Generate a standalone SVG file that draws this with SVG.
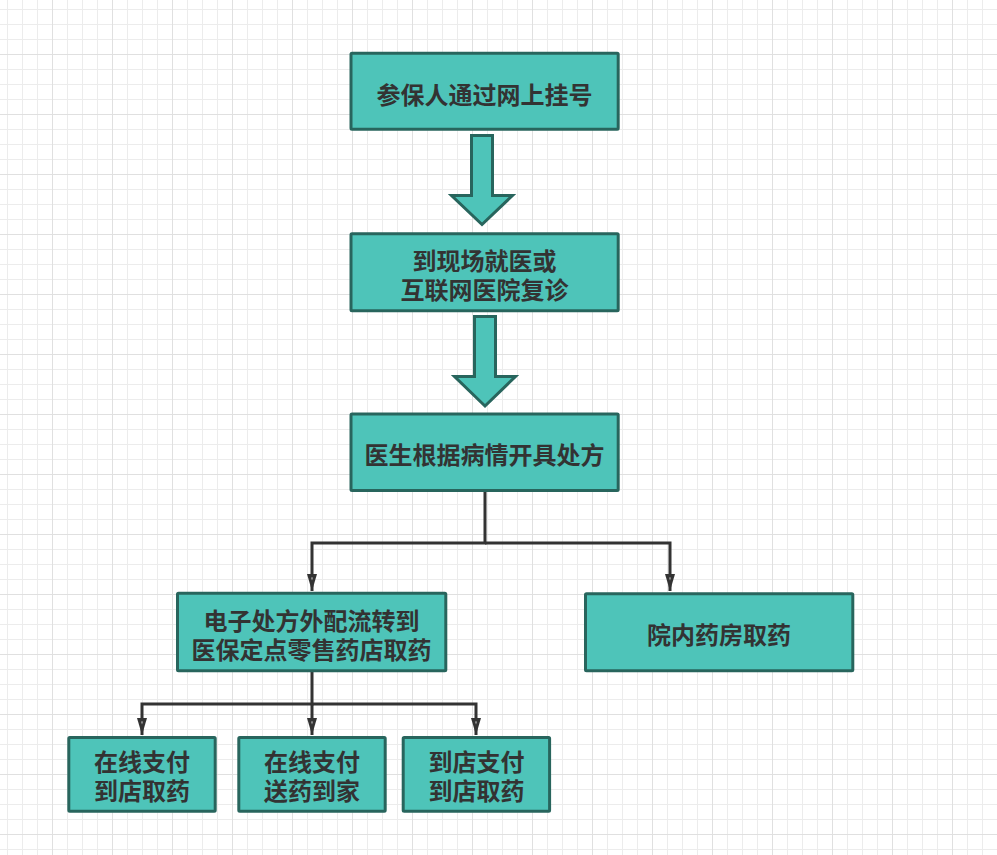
<svg xmlns="http://www.w3.org/2000/svg" width="997" height="855" viewBox="0 0 997 855">
<style>
.box{fill:#4EC4B9;stroke:#28655D;stroke-width:3}
.blk{fill:#4EC4B9;stroke:#28655D;stroke-width:3;stroke-linejoin:miter}
.t{font-family:"Noto Sans CJK SC","Noto Sans",sans-serif;font-weight:bold;font-size:24px;fill:#333;text-anchor:middle;dominant-baseline:central}
.c{fill:none;stroke:#333;stroke-width:3;stroke-linejoin:miter}
</style>
<defs>
<pattern id="grid" x="-8" y="-6" width="60" height="60" patternUnits="userSpaceOnUse">
<path d="M15.5 0V60M30.5 0V60M45.5 0V60M0 15.5H60M0 30.5H60M0 45.5H60" fill="none" stroke="#ececec" stroke-width="1"/>
<path d="M0.5 0V60M0 0.5H60" fill="none" stroke="#e0e0e0" stroke-width="1"/>
</pattern>
<marker id="ah" viewBox="0 0 18 12" refX="17" refY="6" markerWidth="18" markerHeight="12" markerUnits="userSpaceOnUse" orient="auto">
<path d="M0,1 L17,6 L0,11 Z" fill="#333"/>
<path d="M3.5,5 L6.5,6 L3.5,7 Z" fill="#b0b0b0"/>
</marker>
</defs>
<rect width="997" height="855" fill="#fff"/>
<rect width="997" height="855" fill="url(#grid)"/>

<g id="connectors">
<polygon class="blk" points="471.5,135.5 492.5,135.5 492.5,195.5 512.5,195.5 482,224.5 451.5,195.5 471.5,195.5"/>
<polygon class="blk" points="474.5,316.5 495.5,316.5 495.5,376.5 515.5,376.5 485,406 454.5,376.5 474.5,376.5"/>
<path class="c" d="M485,492 V543 H312 V591" marker-end="url(#ah)"/>
<path class="c" d="M485,543 H670 V591" marker-end="url(#ah)"/>
<path class="c" d="M312,672 V704 H142 V735" marker-end="url(#ah)"/>
<path class="c" d="M312,704 V735" marker-end="url(#ah)"/>
<path class="c" d="M312,704 H476 V735" marker-end="url(#ah)"/>
</g>

<g id="n1">
<rect class="box" x="351" y="53.2" width="267.2" height="76" rx="1"/>
<text class="t" x="484.6" y="93">参保人通过网上挂号</text>
</g>
<g id="n2">
<rect class="box" x="351" y="233.8" width="267.2" height="77" rx="1"/>
<text class="t" x="484.6" y="259"><tspan x="484.6">到现场就医或</tspan><tspan x="484.6" dy="29">互联网医院复诊</tspan></text>
</g>
<g id="n3">
<rect class="box" x="351" y="414" width="267.2" height="76.5" rx="1"/>
<text class="t" x="484.6" y="453">医生根据病情开具处方</text>
</g>
<g id="n4">
<rect class="box" x="177.5" y="593.2" width="268.3" height="77.6" rx="1"/>
<text class="t" x="311.6" y="619"><tspan x="311.6">电子处方外配流转到</tspan><tspan x="311.6" dy="29">医保定点零售药店取药</tspan></text>
</g>
<g id="n5">
<rect class="box" x="585.5" y="593.8" width="267.3" height="77" rx="1"/>
<text class="t" x="719" y="633">院内药房取药</text>
</g>
<g id="n6">
<rect class="box" x="68.8" y="737.5" width="146.4" height="73.7" rx="1"/>
<text class="t" x="142" y="760"><tspan x="142">在线支付</tspan><tspan x="142" dy="29">到店取药</tspan></text>
</g>
<g id="n7">
<rect class="box" x="238.8" y="737.5" width="146.4" height="73.7" rx="1"/>
<text class="t" x="312" y="760"><tspan x="312">在线支付</tspan><tspan x="312" dy="29">送药到家</tspan></text>
</g>
<g id="n8">
<rect class="box" x="403.2" y="737.5" width="146.4" height="73.7" rx="1"/>
<text class="t" x="476.4" y="760"><tspan x="476.4">到店支付</tspan><tspan x="476.4" dy="29">到店取药</tspan></text>
</g>
</svg>
